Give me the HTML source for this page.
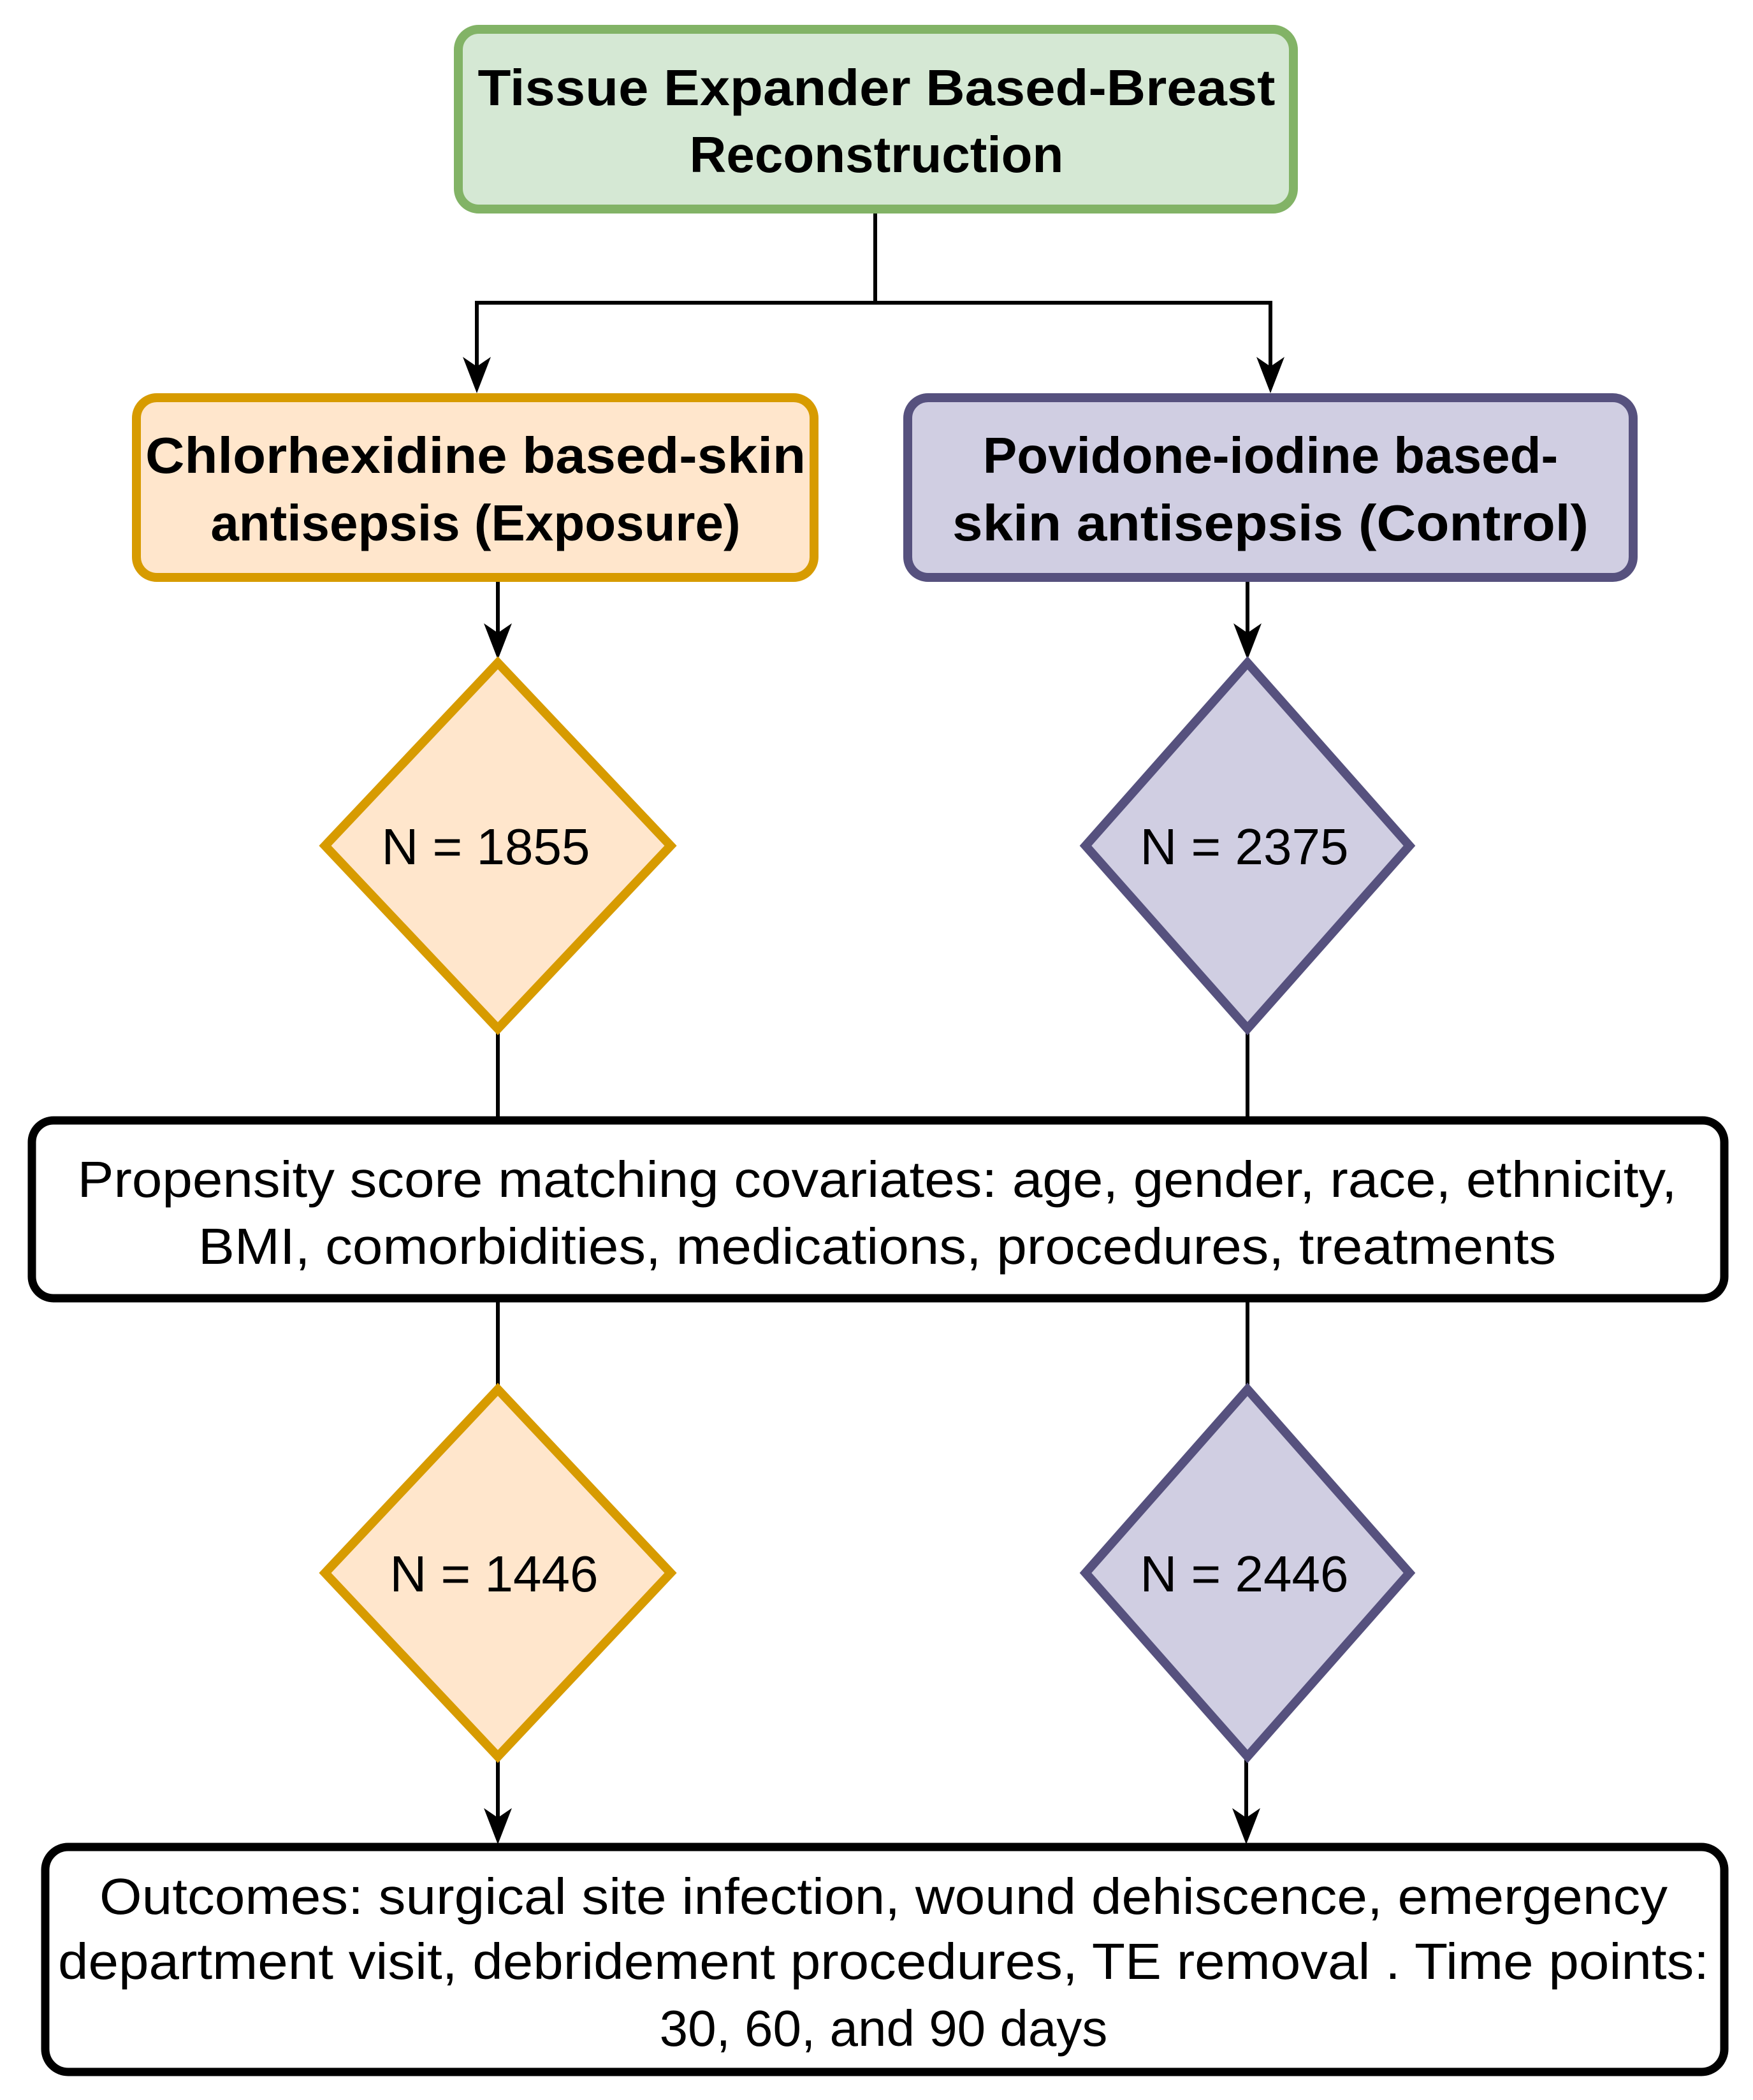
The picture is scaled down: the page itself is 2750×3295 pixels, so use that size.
<!DOCTYPE html>
<html><head><meta charset="utf-8"><style>html,body{margin:0;padding:0;background:#fff}svg{display:block}</style></head>
<body>
<svg width="2750" height="3295" viewBox="0 0 2750 3295" xmlns="http://www.w3.org/2000/svg" font-family="Liberation Sans, Arial, sans-serif">
<defs>
<marker id="ar" markerWidth="10" markerHeight="10" refX="9" refY="5" orient="auto" markerUnits="userSpaceOnUse" viewBox="0 0 10 10">
</marker>
</defs>
<g stroke="#000" stroke-width="6" fill="none">
<path d="M1373 332 V475 M748 475 H1993 M748 472 V590 M1993 472 V590"/>
<path d="M781 909 V1005 M1957 909 V1005"/>
<path d="M781 1617 V1756 M1957 1617 V1756"/>
<path d="M781 2041 V2176 M1957 2041 V2176"/>
<path d="M781 2759 V2866 M1955 2759 V2866"/>
</g>
<g fill="#000">
<path d="M748 617 L726 560 L748 575 L770 560 Z"/>
<path d="M1993 617 L1971 560 L1993 575 L2015 560 Z"/>
<path d="M781 1035 L759 978 L781 993 L803 978 Z"/>
<path d="M1957 1035 L1935 978 L1957 993 L1979 978 Z"/>
<path d="M781 2894 L759 2837 L781 2852 L803 2837 Z"/>
<path d="M1955 2894 L1933 2837 L1955 2852 L1977 2837 Z"/>
</g>
<rect x="719" y="46" width="1310" height="282" rx="32" fill="#d5e8d4" stroke="#82b366" stroke-width="14"/>
<rect x="214" y="624" width="1063" height="282" rx="32" fill="#ffe6cc" stroke="#d79b00" stroke-width="14"/>
<rect x="1424" y="624" width="1138" height="282" rx="32" fill="#d0cee2" stroke="#56517e" stroke-width="14"/>
<polygon points="781,1040 1052,1327 781,1614 510,1327" fill="#ffe6cc" stroke="#d79b00" stroke-width="14"/>
<polygon points="1957,1040 2211,1327 1957,1614 1703,1327" fill="#d0cee2" stroke="#56517e" stroke-width="14"/>
<polygon points="781,2180 1052,2468 781,2756 510,2468" fill="#ffe6cc" stroke="#d79b00" stroke-width="14"/>
<polygon points="1957,2180 2211,2468 1957,2756 1703,2468" fill="#d0cee2" stroke="#56517e" stroke-width="14"/>
<rect x="50" y="1758" width="2655" height="279" rx="34" fill="#fff" stroke="#000" stroke-width="13"/>
<rect x="71" y="2898" width="2634" height="353" rx="36" fill="#fff" stroke="#000" stroke-width="13"/>
<g font-weight="bold" font-size="80" text-anchor="middle" fill="#000">
<text x="1375" y="165" textLength="1251" lengthAdjust="spacingAndGlyphs">Tissue Expander Based-Breast</text>
<text x="1375" y="270">Reconstruction</text>
<text x="746" y="742" textLength="1036" lengthAdjust="spacingAndGlyphs">Chlorhexidine based-skin</text>
<text x="746" y="848">antisepsis (Exposure)</text>
<text x="1993" y="742">Povidone-iodine based-</text>
<text x="1993" y="848" textLength="998" lengthAdjust="spacingAndGlyphs">skin antisepsis (Control)</text>
</g>
<g font-size="80" text-anchor="middle" fill="#000">
<text x="762" y="1356">N = 1855</text>
<text x="1952" y="1356">N = 2375</text>
<text x="775" y="2497">N = 1446</text>
<text x="1952" y="2497">N = 2446</text>
<text x="1376" y="1878" textLength="2509" lengthAdjust="spacingAndGlyphs">Propensity score matching covariates: age, gender, race, ethnicity,</text>
<text x="1376" y="1983" textLength="2130" lengthAdjust="spacingAndGlyphs">BMI, comorbidities, medications, procedures, treatments</text>
<text x="1386" y="3003" textLength="2460" lengthAdjust="spacingAndGlyphs">Outcomes: surgical site infection, wound dehiscence, emergency</text>
<text x="1386" y="3105" textLength="2590" lengthAdjust="spacingAndGlyphs">department visit, debridement procedures, TE removal . Time points:</text>
<text x="1386" y="3210">30, 60, and 90 days</text>
</g>
</svg>
</body></html>
